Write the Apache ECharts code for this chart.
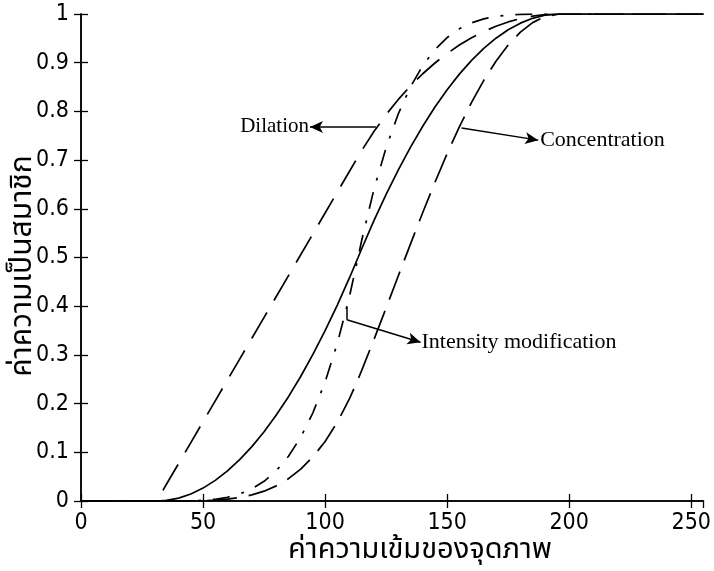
<!DOCTYPE html>
<html>
<head>
<meta charset="utf-8">
<script src="https://cdn.jsdelivr.net/npm/echarts@6/dist/echarts.min.js"></script>
<style>html,body{margin:0;padding:0;background:#fff}#c{width:714px;height:571px}</style>
</head>
<body>
<div id="c"></div>
<script>
// Pixel intensity (x) sample positions
const xs = [0,31,35,40,45,50,55,60,65,70,75,80,85,90,95,100,105,110,113.5,115,120,125,130,135,140,145,150,155,160,165,170,175,180,185,190,196,255];
// Original membership (solid)
const membership = [0,0,0.0012,0.0060,0.0144,0.0265,0.0423,0.0618,0.0849,0.1117,0.1422,0.1764,0.2142,0.2557,0.3009,0.3498,0.4023,0.4585,0.5,0.5180,0.5757,0.6297,0.6800,0.7267,0.7696,0.8089,0.8446,0.8765,0.9048,0.9294,0.9503,0.9676,0.9812,0.9911,0.9974,1,1];
// Dilation (dashed, left)
const dilation = [0,0,0.0343,0.0771,0.1200,0.1629,0.2057,0.2486,0.2914,0.3343,0.3771,0.4200,0.4628,0.5057,0.5485,0.5914,0.6343,0.6771,0.7071,0.7197,0.7587,0.7935,0.8246,0.8524,0.8773,0.8994,0.9190,0.9362,0.9512,0.9641,0.9749,0.9837,0.9905,0.9955,0.9987,1,1];
// Concentration (dashed, right)
const concentration = [0,0,0.0000,0.0000,0.0002,0.0007,0.0018,0.0038,0.0072,0.0125,0.0202,0.0311,0.0459,0.0654,0.0905,0.1223,0.1618,0.2102,0.25,0.2683,0.3314,0.3965,0.4624,0.5280,0.5923,0.6543,0.7133,0.7683,0.8186,0.8638,0.9031,0.9363,0.9627,0.9823,0.9947,1,1];
// Intensity modification (dash-dot)
const intensity = [0,0,0.0000,0.0001,0.0004,0.0014,0.0036,0.0076,0.0144,0.0250,0.0405,0.0622,0.0918,0.1308,0.1811,0.2446,0.3237,0.4204,0.5,0.5354,0.6399,0.7257,0.7952,0.8506,0.8939,0.9270,0.9517,0.9695,0.9819,0.9900,0.9951,0.9979,0.9993,0.9998,1.0000,1,1];
const xTicks = [0,50,100,150,200,250];
const xName = 'ค่าความเข้มของจุดภาพ';
const yName = 'ค่าความเป็นสมาชิก';

function pairs(ys){ return xs.map((x,i)=>[x,ys[i]]); }

const numFont = "'Liberation Sans Narrow','DejaVu Sans Condensed','Liberation Sans',sans-serif";
const serif = "'Liberation Serif','DejaVu Serif',serif";
const thai = "'Noto Sans Thai','Loma','Garuda','Tlwg Typist','Noto Sans','DejaVu Sans',sans-serif";

const chart = echarts.init(document.getElementById('c'), null, {renderer:'canvas'});
const axisLine = {show:true, lineStyle:{color:'#000', width:1.5}};
const tick = {show:true, inside:true, length:7, lineStyle:{color:'#000', width:1.3}};
const lineBase = {type:'line', showSymbol:false, symbol:'none', smooth:false, silent:true, xAxisIndex:0, yAxisIndex:0, z:3};
const black = '#000';

chart.setOption({
  animation:false,
  backgroundColor:'#fff',
  grid:{left:81, right:8, top:14, bottom:70, containLabel:false},
  xAxis:[
    {type:'value', min:0, max:255, interval:50, position:'bottom',
     axisLine, axisTick:tick, splitLine:{show:false},
     axisLabel:{color:'#000', fontSize:23, fontFamily:numFont, margin:11, showMaxLabel:false,
       formatter:v=> xTicks.indexOf(v) >= 0 ? String(v) : ''}},
    {type:'value', min:0, max:255, interval:50, position:'top',
     axisLine, axisTick:tick, splitLine:{show:false}, axisLabel:{show:false}}
  ],
  yAxis:[
    {type:'value', min:0, max:1, interval:0.1, position:'left',
     axisLine, axisTick:tick, splitLine:{show:false},
     axisLabel:{color:'#000', fontSize:23, fontFamily:numFont, margin:12,
       formatter:v=> String(Math.round(v*10)/10)}},
    {type:'value', min:0, max:1, interval:0.1, position:'right',
     axisLine, axisTick:tick, splitLine:{show:false}, axisLabel:{show:false}}
  ],
  graphic:[
    {type:'text', x:25, y:266, rotation:Math.PI/2,
     style:{text:yName, fill:'#000', font:"30px "+thai, textAlign:'center', textVerticalAlign:'middle'}},
    {type:'text', x:420, y:552,
     style:{text:xName, fill:'#000', font:"29px "+thai, textAlign:'center', textVerticalAlign:'middle'}}
  ],
  series:[
    Object.assign({}, lineBase, {name:'Membership', data:pairs(membership),
      lineStyle:{color:black, width:1.7, type:'solid'},
      markLine:{silent:true, symbol:['none','arrow'], symbolSize:[9,13], animation:false,
        lineStyle:{color:black, width:1.5, type:'solid'},
        label:{color:black, fontSize:22, fontFamily:serif, position:'end', distance:2},
        data:[
          [{coord:[120.8,0.768], symbol:'none'},{coord:[93.8,0.768], symbol:'arrow', label:{formatter:'Dilation', distance:1, fontSize:21}}],
          [{coord:[155.9,0.766], symbol:'none'},{coord:[187.3,0.741], symbol:'arrow', label:{formatter:'Concentration'}}],
          [{coord:[108.9,0.398], symbol:'none'},{coord:[108.9,0.372], symbol:'none', label:{show:false}}],
          [{coord:[108.9,0.372], symbol:'none'},{coord:[139.1,0.326], symbol:'arrow', label:{formatter:'Intensity modification', distance:1}}]
        ]}}),
    Object.assign({}, lineBase, {name:'Dilation', data:pairs(dilation),
      lineStyle:{color:black, width:1.7, type:[30,14]}}),
    Object.assign({}, lineBase, {name:'Concentration', data:pairs(concentration),
      lineStyle:{color:black, width:1.7, type:[30,12]}}),
    Object.assign({}, lineBase, {name:'Intensity modification', data:pairs(intensity),
      lineStyle:{color:black, width:1.7, type:[17,12,3,12]}})
  ]
});
</script>
</body>
</html>
